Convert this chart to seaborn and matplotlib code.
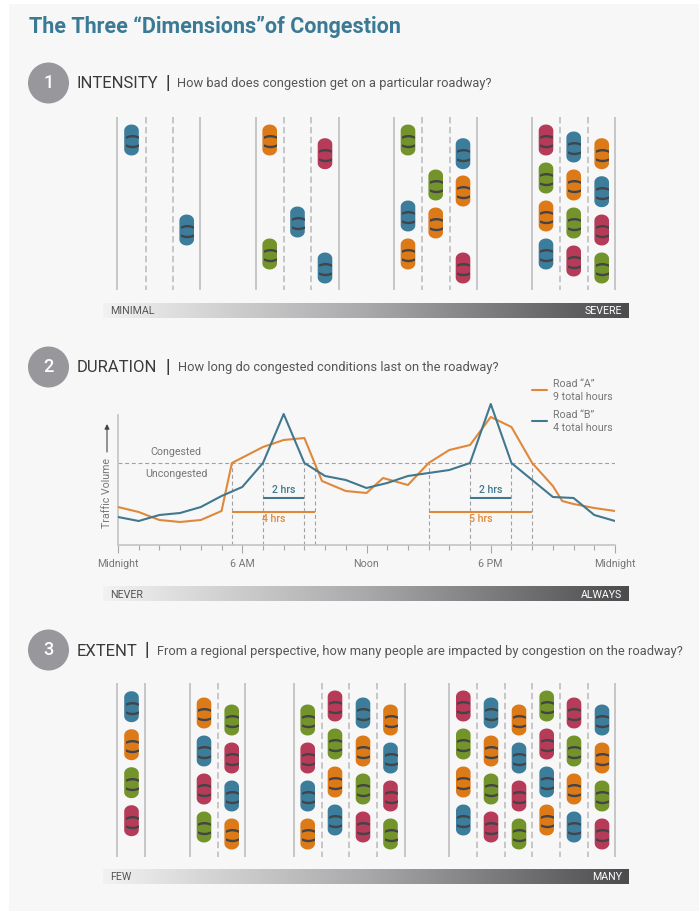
import numpy as np
import pandas as pd
import seaborn as sns
import matplotlib.pyplot as plt
from matplotlib.colors import LinearSegmentedColormap
from matplotlib.patches import Circle, Rectangle
from matplotlib.path import Path

# car colours per letter
palette = {"b": "#3c7d9b", "o": "#dc7a18", "g": "#73942a", "r": "#b63b58"}

# section 1, lines of the four roads (pixels on the page)
intensity_solid = [117, 200, 255.7, 339, 393.7, 477, 532, 615]
intensity_dashed = [145.5, 173, 284, 311, 421.7, 449.7, 559.7, 587.7]
intensity_lane_x = [131.5, 186.7, 269.7, 297.5, 325, 408, 435.7, 463, 546, 573.7, 601.7]
intensity_lane_y = [
    [140], [230], [140, 254], [222], [153.7, 268], [140, 216, 254], [185, 223],
    [153.7, 191, 268], [140, 178, 216, 254], [147, 185, 223, 261], [153.7, 191.7, 230, 268],
]
intensity_lane_colors = ["b", "b", "og", "b", "rb", "gbo", "go", "bor", "rgob", "bogr", "obrg"]

# section 3
extent_solid = [117, 145.3, 190, 245, 293.7, 404.7, 449.3, 615]
extent_dashed = [218, 321.7, 349, 377, 476.7, 504.7, 532, 560, 587.7]
extent_lane_x = [131.5, 204, 231.7, 307.7, 335, 363, 390.5, 463.3, 491, 519, 546.7, 574, 602]
extent_lane_y = [
    [706.7, 744.7, 782.7, 820.7], [713, 751, 789, 827], [720, 758, 796, 834],
    [720, 758, 796, 834], [706, 744, 782, 820], [713, 751, 789, 827], [720, 758, 796, 834],
    [706, 744, 782, 820], [713, 751, 789, 827], [720, 758, 796, 834],
    [706, 744, 782, 820], [713, 751, 789, 827], [720, 758, 796, 834],
]
extent_lane_colors = ["bogr", "obrg", "grbo", "grbo", "rgob", "bogr", "obrg",
                      "rgob", "bogr", "obrg", "grbo", "rgob", "bogr"]

# section 2, traffic volume per hour
road_a_hours = [0, 1, 2, 3, 4, 5, 5.5, 7, 8, 9, 9.85, 11, 12, 12.8, 14, 15, 16, 17, 18, 19, 20, 21, 21.45, 22, 23, 24]
road_a_volume = [38, 33, 25, 23, 25, 34, 82, 98, 105, 107, 64, 54, 52, 67, 60, 82, 95, 100, 128, 118, 82, 59, 44, 41, 37, 34]
road_b_hours = list(range(25))
road_b_volume = [28, 24, 30, 32, 38, 49, 58, 82, 131, 82, 69, 65, 57, 62, 69, 72, 75, 82, 141, 82, 65, 48, 47, 30, 24]
congested_level = 82
a_spans = [(5.5, 9.5), (15, 20)]
b_spans = [(7, 9), (17, 19)]
a_span_labels = ["4 hrs", "5 hrs"]
b_span_labels = ["2 hrs", "2 hrs"]
hour_labels = ["Midnight", "6 AM", "Noon", "6 PM", "Midnight"]

headings = ["INTENSITY", "DURATION", "EXTENT"]
questions = [
    "How bad does congestion get on a particular roadway?",
    "How long do congested conditions last on the roadway?",
    "From a regional perspective, how many people are impacted by congestion on the roadway?",
]
scale_labels = [("MINIMAL", "SEVERE"), ("NEVER", "ALWAYS"), ("FEW", "MANY")]

sns.set_theme(style="white")
plt.rcParams["font.family"] = ["Roboto", "DejaVu Sans"]

W, H = 699, 911
fig = plt.figure(figsize=(W / 100, H / 100), dpi=100, facecolor="white")
page = fig.add_axes([0, 0, 1, 1])
page.set_xlim(0, W)
page.set_ylim(H, 0)
page.axis("off")
page.add_patch(Rectangle((9, 4), W, H, color="#f7f7f7", lw=0))


def car_table(lane_x, lane_y, lane_colors):
    rows = []
    for x, ys, cols in zip(lane_x, lane_y, lane_colors):
        for y, c in zip(ys, cols):
            rows.append({"x": x, "y": y, "color": c})
    return pd.DataFrame(rows)


# car body and windscreens as marker shapes, units are pixels
t = np.linspace(0, np.pi, 16)
body = np.vstack([
    np.c_[7.3 * np.cos(t), 15.5 - 6 + 6 * np.sin(t)],
    np.c_[-7.3 * np.cos(t), -15.5 + 6 - 6 * np.sin(t)],
])
body_path = Path(np.vstack([body, body[0]]), closed=True)

s_x = np.linspace(-6.5, 6.5, 13)


def crescent(y0, bow, thick):
    top = y0 + bow * (1 - (s_x / 6.5) ** 2)
    bottom = top - thick
    return np.vstack([np.c_[s_x, top], np.c_[s_x[::-1], bottom[::-1]], [[s_x[0], top[0]]]])


front = crescent(4.0, 1.5, 2.4)
rear = crescent(-6.2, -1.5, -2.4)
glass_path = Path(
    np.vstack([front, rear]),
    [Path.MOVETO] + [Path.LINETO] * (len(front) - 2) + [Path.CLOSEPOLY]
    + [Path.MOVETO] + [Path.LINETO] * (len(rear) - 2) + [Path.CLOSEPOLY],
)


def marker_size(path):
    return (2 * np.abs(path.vertices).max() * 0.72) ** 2


def draw_cars(table):
    sns.scatterplot(data=table, x="x", y="y", hue="color", palette=palette, marker=body_path,
                    s=marker_size(body_path), linewidth=0, legend=False, ax=page, zorder=3)
    sns.scatterplot(data=table, x="x", y="y", color="#434348", marker=glass_path,
                    s=marker_size(glass_path), linewidth=0, legend=False, ax=page, zorder=4)


def draw_road_lines(solid, dashed, y0, y1):
    page.vlines(solid, y0, y1, color="#c6c6c6", lw=1.4, zorder=1)
    page.vlines(dashed, y0, y1, color="#c6c6c6", lw=1.4, linestyles=(0, (3.3, 1.8)), zorder=1)


draw_road_lines(intensity_solid, intensity_dashed, 117, 290)
draw_road_lines(extent_solid, extent_dashed, 683, 857)
draw_cars(car_table(intensity_lane_x, intensity_lane_y, intensity_lane_colors))
draw_cars(car_table(extent_lane_x, extent_lane_y, extent_lane_colors))
page.set_xlim(0, W)
page.set_ylim(H, 0)
page.set_xlabel("")
page.set_ylabel("")

# title and headings
page.text(29, 27.5, "The Three \u201cDimensions\u201dof Congestion", color="#3a7a94", fontsize=15.5,
          fontweight="bold", va="center")
head_y = [83, 367, 650]
bar_x = [168, 168, 147]
q_x = [177, 178, 157]
for i in range(3):
    page.add_patch(Circle((48.5, head_y[i]), 20.5, color="#98989c", lw=0))
    page.text(48.5, head_y[i], str(i + 1), color="white", fontsize=13, fontweight="medium",
              ha="center", va="center")
    page.text(77, head_y[i] + 1, headings[i], color="#3a3a3c", fontsize=12, va="center")
    page.text(bar_x[i], head_y[i], "|", color="#3a3a3c", fontsize=13, fontweight="bold",
              ha="center", va="center")
    page.text(q_x[i], head_y[i] + 1, questions[i], color="#555558", fontsize=9.3, va="center")

# gradient scales
grey_map = LinearSegmentedColormap.from_list("scale", ["#f2f2f2", "#a9a9ab", "#4c4c4e"])
gradient = np.linspace(0, 1, 256).reshape(1, -1)
scale_y = [304, 587, 870]
for i in range(3):
    page.imshow(gradient, cmap=grey_map, aspect="auto", zorder=2,
                extent=(103, 629, scale_y[i] + 14.5, scale_y[i]))
    page.text(110, scale_y[i] + 7.5, scale_labels[i][0], color="#555558", fontsize=7.7, va="center", zorder=3)
    page.text(622, scale_y[i] + 7.5, scale_labels[i][1], color="white", fontsize=7.7, ha="right", va="center", zorder=3)
page.set_xlim(0, W)
page.set_ylim(H, 0)

# line chart
orange = "#e0883a"
blue = "#41788f"
left, right, top, bottom = 118, 615, 400, 545
ax = fig.add_axes([left / W, 1 - bottom / H, (right - left) / W, (bottom - top) / H])
ax.patch.set_alpha(0)
ax.set_xlim(0, 24)
ax.set_ylim(0, 145)
ax.hlines(congested_level, 0, 24, color="#a0a0a0", lw=0.8, linestyles=(0, (3.5, 2.5)))
for start, end in a_spans + b_spans:
    ax.vlines([start, end], 0, congested_level, color="#a0a0a0", lw=0.8, linestyles=(0, (3.5, 2.5)))
sns.lineplot(x=road_a_hours, y=road_a_volume, color=orange, lw=1.5, estimator=None, sort=False, ax=ax, zorder=3)
sns.lineplot(x=road_b_hours, y=road_b_volume, color=blue, lw=1.5, estimator=None, sort=False, ax=ax, zorder=4)
ax.set_xlabel("")
ax.set_ylabel("")
for (start, end), label in zip(a_spans, a_span_labels):
    ax.plot([start, end], [33, 33], color=orange, lw=1.5, solid_capstyle="butt")
    ax.text((start + end) / 2, 25.5, label, color=orange, fontsize=7.6, fontweight="medium", ha="center", va="center")
for (start, end), label in zip(b_spans, b_span_labels):
    ax.plot([start, end], [47, 47], color=blue, lw=1.5, solid_capstyle="butt")
    ax.text((start + end) / 2, 55, label, color=blue, fontsize=7.6, fontweight="medium", ha="center", va="center")
ax.text(2.8, 93, "Congested", color="#777779", fontsize=7.7, ha="center", va="center")
ax.text(2.8, 71, "Uncongested", color="#777779", fontsize=7.7, ha="center", va="center")

sns.despine(ax=ax, top=True, right=True)
ax.spines["left"].set_bounds(0, 130)
ax.spines["left"].set_color("#c4c4c4")
ax.spines["bottom"].set_color("#c4c4c4")
ax.spines["left"].set_linewidth(1.2)
ax.spines["bottom"].set_linewidth(1.2)
ax.set_yticks([])
ax.set_xticks(np.arange(0, 25, 6))
ax.set_xticklabels(hour_labels, color="#777779", fontsize=7.7)
ax.set_xticks(np.arange(0, 25), minor=True)
ax.tick_params(axis="x", which="major", direction="out", length=6, width=0.8, color="#a8a8a8", pad=4, bottom=True)
ax.tick_params(axis="x", which="minor", direction="out", length=3.5, width=0.8, color="#a8a8a8", bottom=True)

# legend and axis caption, drawn in page pixels on top
page.set_zorder(0)
ax.set_zorder(1)
page.plot([532, 547], [390, 390], color=orange, lw=1.5)
page.plot([532, 547], [421, 421], color=blue, lw=1.5)
page.text(553, 384, "Road \u201cA\u201d", color="#777779", fontsize=7.7, va="center")
page.text(553, 397, "9 total hours", color="#777779", fontsize=7.7, va="center")
page.text(553, 415, "Road \u201cB\u201d", color="#777779", fontsize=7.7, va="center")
page.text(553, 428, "4 total hours", color="#777779", fontsize=7.7, va="center")
page.text(107.5, 493, "Traffic Volume", color="#777779", fontsize=7.7, rotation=90, ha="center", va="center")
page.annotate("", xy=(107, 424), xytext=(107, 452),
              arrowprops=dict(arrowstyle="-|>", color="#444446", lw=0.8, mutation_scale=7, shrinkA=0, shrinkB=0))

fig.savefig("out.png", dpi=100)
